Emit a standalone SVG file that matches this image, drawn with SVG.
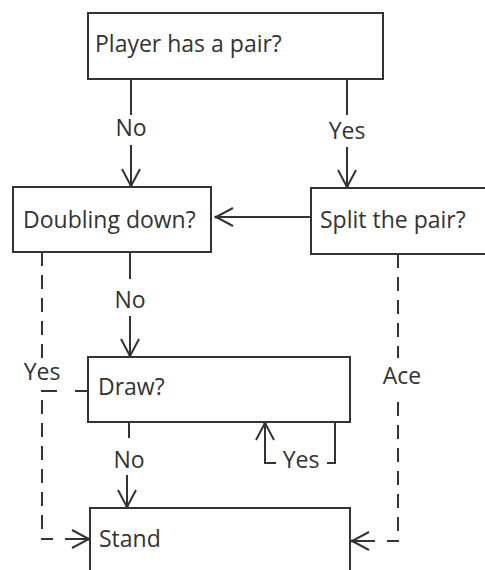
<svg xmlns="http://www.w3.org/2000/svg" width="485" height="570" viewBox="0 0 485 570">
  <style>
    .box { fill: #fff; stroke: #333; stroke-width: 2; }
    .t { font-family: "Open Sans", "Liberation Sans", sans-serif; font-size: 23px; fill: #333; }
    .lbl { font-family: "Open Sans", "Liberation Sans", sans-serif; font-size: 23px; fill: #333; text-anchor: middle; }
    .c { fill: none; stroke: #333; stroke-width: 2; }
    .d { fill: none; stroke: #333; stroke-width: 2; stroke-dasharray: 14 9; }
    .a { marker-end: url(#arr); }
  </style>
  <defs>
    <marker id="arr" viewBox="0 0 20 20" refX="18" refY="10" markerWidth="20" markerHeight="20" markerUnits="userSpaceOnUse" orient="auto">
      <path d="M1,1 L18,10 L1,19" fill="none" stroke="#333" stroke-width="2"/>
      <circle cx="18" cy="10" r="1.6" fill="#333"/>
    </marker>
  </defs>
  <rect width="485" height="570" fill="#fff"/>

  <g id="connectors">
    <path class="c" d="M131,79 V115"/>
    <text class="lbl" x="131" y="136">No</text>
    <path class="c a" d="M131,145 V186"/>

    <path class="c" d="M347,79 V115"/>
    <text class="lbl" x="347" y="139">Yes</text>
    <path class="c a" d="M347,147 V187"/>

    <path class="c a" d="M311,217 H216"/>

    <path class="c" d="M130,252 V279"/>
    <text class="lbl" x="130" y="308">No</text>
    <path class="c a" d="M130,316 V356"/>

    <path class="d" d="M42,252 V358"/>
    <text class="lbl" x="42" y="380">Yes</text>
    <path class="c" d="M41,391 H57 M75,391 H88"/>
    <path class="d" d="M42,400 V539 H53"/>
    <path class="c a" d="M65,539 H89"/>

    <path class="d" d="M398,254 V358"/>
    <text class="lbl" x="402" y="384">Ace</text>
    <path class="d" d="M398,402 V541 H387"/>
    <path class="c a" d="M375,541 H352"/>

    <path class="c" d="M129,422 V438"/>
    <text class="lbl" x="129" y="468">No</text>
    <path class="c a" d="M127,475 V507"/>

    <path class="c" d="M335,422 V463 H327"/>
    <text class="lbl" x="301" y="468">Yes</text>
    <path class="c a" d="M276,463 H265 V423"/>
  </g>

  <g id="n-player">
    <rect class="box" x="88" y="13" width="295" height="66"/>
    <text class="t" x="95" y="52">Player has a pair?</text>
  </g>
  <g id="n-doubling">
    <rect class="box" x="13" y="187" width="198" height="65"/>
    <text class="t" x="23" y="228">Doubling down?</text>
  </g>
  <g id="n-split">
    <rect class="box" x="311" y="188" width="200" height="66"/>
    <text class="t" x="320" y="228">Split the pair?</text>
  </g>
  <g id="n-draw">
    <rect class="box" x="88" y="357" width="262" height="65"/>
    <text class="t" x="98" y="395">Draw?</text>
  </g>
  <g id="n-stand">
    <rect class="box" x="90" y="508" width="260" height="80"/>
    <text class="t" x="99" y="547">Stand</text>
  </g>
</svg>
